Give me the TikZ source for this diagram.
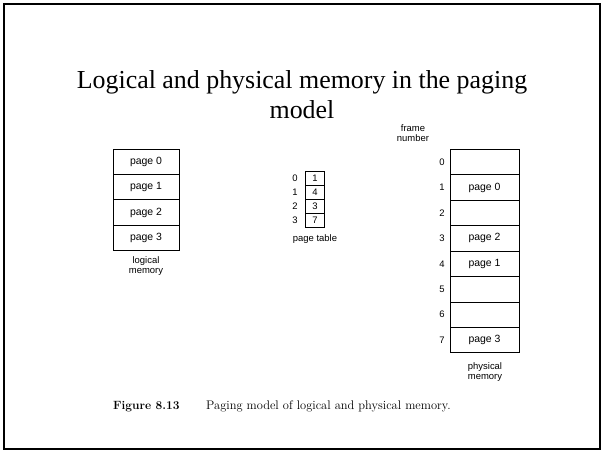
\documentclass[tikz,border=0pt]{standalone}
\usepackage{fontspec}
\newfontfamily\titlefont{Liberation Serif}
\newfontfamily\labelfont{Liberation Sans}
\begin{document}
\begin{tikzpicture}[x=1bp,y=-1bp,
  lbl/.style={font=\labelfont\fontsize{9.5}{10.5}\selectfont, inner sep=0, align=center},
  cell/.style={draw, line width=0.8bp, minimum width=68bp, minimum height=25.4bp, inner sep=0, outer sep=0, font=\labelfont\fontsize{10.5}{12}\selectfont},
  ptcell/.style={draw, line width=0.8bp, minimum width=19bp, minimum height=14bp, inner sep=0, outer sep=0, font=\labelfont\fontsize{9.5}{11}\selectfont},
  idx/.style={font=\labelfont\fontsize{9.5}{11}\selectfont, inner sep=0}]
\useasboundingbox (0,0) rectangle (605,452);
\draw[line width=2.5bp] (4,4) rectangle (600,449);
\node[font=\titlefont\fontsize{26}{30}\selectfont, align=center] (title) at (302,95) {Logical and physical memory in the paging\\model};
% logical memory
\foreach \i in {0,1,2,3} {
  \node[cell, minimum width=66bp] (l\i) at (146,{161.7+25.4*\i}) {page \i};
}
\node[lbl] (lcap) at (146,266) {logical\\memory};
% page table
\foreach \i/\v in {0/1,1/4,2/3,3/7} {
  \node[ptcell] (p\i) at (315,{178.5+14*\i}) {\v};
  \node[idx] (pi\i) at (295,{178.5+14*\i}) {\i};
}
\node[lbl] (pcap) at (315,239) {page table};
% physical memory
\foreach \i/\t in {0/,1/page 0,2/,3/page 2,4/page 1,5/,6/,7/page 3} {
  \node[cell, minimum width=69bp] (f\i) at (484.5,{162.2+25.4*\i}) {\t};
  \node[idx] (fi\i) at (442,{162.2+25.4*\i}) {\i};
}
\node[lbl] (fcap) at (413,133) {frame\\number};
\node[lbl] (mcap) at (485,372) {physical\\memory};
% caption
\node[anchor=base west, inner sep=0, font=\fontsize{12}{14}\selectfont\bfseries] (fig) at (113,409) {Figure 8.13};
\node[anchor=base west, inner sep=0, font=\fontsize{12.5}{14}\selectfont] (figtxt) at (206,409) {Paging model of logical and physical memory.};
\end{tikzpicture}
\end{document}
